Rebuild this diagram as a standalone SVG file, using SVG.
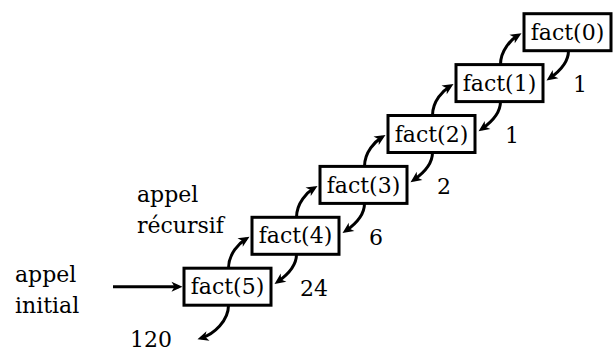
<svg xmlns="http://www.w3.org/2000/svg" width="613" height="351" viewBox="0 0 613 351">
  <style>
    .box rect { fill: #fff; stroke: #000; stroke-width: 3; }
    .box text { font-family: "DejaVu Serif", "Liberation Serif", serif; font-size: 22px; text-anchor: middle; fill: #000; }
    .lbl { font-family: "DejaVu Serif", "Liberation Serif", serif; font-size: 22px; fill: #000; }
    .arr { fill: none; stroke: #000; stroke-width: 3; marker-end: url(#head); }
  </style>
  <defs>
    <marker id="head" markerUnits="userSpaceOnUse" viewBox="-8 -6 13 12" refX="0" refY="0" markerWidth="13" markerHeight="12" orient="auto">
      <path d="M-7,-5 L4,0 L-7,5 L-4,0 Z" fill="#000"/>
    </marker>
  </defs>

  <!-- call chain boxes -->
  <g id="fact5" class="box"><rect x="184" y="268.2" width="87" height="37"/><text x="227.5" y="294.3">fact(5)</text></g>
  <g id="fact4" class="box"><rect x="252" y="217.3" width="87" height="37"/><text x="295.5" y="243.4">fact(4)</text></g>
  <g id="fact3" class="box"><rect x="320" y="166.4" width="87" height="37"/><text x="363.5" y="192.5">fact(3)</text></g>
  <g id="fact2" class="box"><rect x="388" y="115.5" width="87" height="37"/><text x="431.5" y="141.6">fact(2)</text></g>
  <g id="fact1" class="box"><rect x="456" y="64.6" width="87" height="37"/><text x="499.5" y="90.7">fact(1)</text></g>
  <g id="fact0" class="box"><rect x="524" y="13.7" width="87" height="37"/><text x="567.5" y="39.8">fact(0)</text></g>

  <!-- arrows: initial call, recursive calls, returned values -->
  <g id="connectors">
    <path class="arr" d="M113,286.7 L178.5,286.7"/>

    <path class="arr" d="M228.5,268.2 c0,-14.5 10.8,-25.1 17.6,-29.3"/>
    <path class="arr" d="M296.5,217.3 c0,-14.5 10.8,-25.1 17.6,-29.3"/>
    <path class="arr" d="M364.5,166.4 c0,-14.5 10.8,-25.1 17.6,-29.3"/>
    <path class="arr" d="M432.5,115.5 c0,-14.5 10.8,-25.1 17.6,-29.3"/>
    <path class="arr" d="M500.5,64.6 c0,-14.5 10.8,-25.1 17.6,-29.3"/>

    <path class="arr" d="M568.5,50.7 c0,13.5 -12.1,22.8 -18.7,27.4"/>
    <path class="arr" d="M500.5,101.6 c0,13.5 -12.1,22.8 -18.7,27.4"/>
    <path class="arr" d="M432.5,152.5 c0,13.5 -12.1,22.8 -18.7,27.4"/>
    <path class="arr" d="M364.5,203.4 c0,13.5 -12.1,22.8 -18.7,27.4"/>
    <path class="arr" d="M296.5,254.3 c0,13.5 -12.1,22.8 -18.7,27.4"/>

    <path class="arr" d="M228.5,305.2 c0,15.5 -14.5,28.8 -27.2,32.8"/>
  </g>

  <!-- returned values -->
  <text class="lbl" x="573" y="92.1">1</text>
  <text class="lbl" x="505" y="143">1</text>
  <text class="lbl" x="437" y="193.9">2</text>
  <text class="lbl" x="369" y="244.8">6</text>
  <text class="lbl" x="300" y="295.7">24</text>
  <text class="lbl" x="130" y="347">120</text>

  <!-- captions -->
  <text class="lbl" x="137" y="202">appel</text>
  <text class="lbl" x="137" y="233">récursif</text>
  <text class="lbl" x="15" y="282">appel</text>
  <text class="lbl" x="15" y="313">initial</text>
</svg>
